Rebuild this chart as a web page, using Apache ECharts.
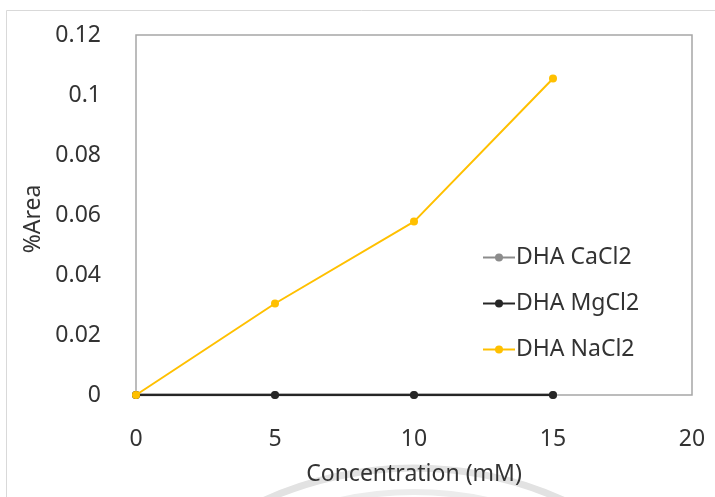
<!DOCTYPE html>
<html>
<head>
<meta charset="utf-8">
<script src="https://cdn.jsdelivr.net/npm/echarts@6/dist/echarts.min.js"></script>
<style>
  html, body { margin: 0; padding: 0; background: #ffffff; }
  #chart { width: 715px; height: 497px; }
</style>
</head>
<body>
<div id="chart"></div>
<script>
// Concentration levels (mM)
const concentration = [0, 5, 10, 15];
// %Area for each salt
const caCl2 = [0, 0, 0, 0];
const mgCl2 = [0, 0, 0, 0];
const naCl2 = [0, 0.0305, 0.0578, 0.1055];
const seriesNames = ['DHA CaCl2', 'DHA MgCl2', 'DHA NaCl2'];

const FONT = '"Noto Sans", sans-serif';
const FS = 23;
const TEXT = '#333333';

function pairs(values) {
  return concentration.map((c, i) => [c, values[i]]);
}

const chart = echarts.init(document.getElementById('chart'));
chart.setOption({
  animation: false,
  backgroundColor: '#ffffff',
  grid: {
    left: 136, right: 23, top: 35, bottom: 102,
    show: true, borderColor: '#a6a6a6', borderWidth: 1.5
  },
  graphic: [
    {
      type: 'rect', silent: true, z: -1,
      shape: { x: 6.5, y: 10.5, width: 720, height: 500 },
      style: { fill: 'none', stroke: '#d9d9d9', lineWidth: 1 }
    },
    {
      type: 'arc', silent: true, z: -1,
      shape: { cx: 414, cy: 830, r: 362, startAngle: Math.PI * 1.18, endAngle: Math.PI * 1.82 },
      style: { fill: 'none', stroke: '#e2e2e2', lineWidth: 7 }
    },
    {
      type: 'arc', silent: true, z: -1,
      shape: { cx: 414, cy: 830, r: 338, startAngle: Math.PI * 1.25, endAngle: Math.PI * 1.75 },
      style: { fill: 'none', stroke: '#ececec', lineWidth: 6 }
    }
  ],
  legend: {
    orient: 'vertical',
    left: 477, top: 241,
    itemGap: 23,
    itemWidth: 32, itemHeight: 10,
    textStyle: { fontFamily: FONT, fontSize: FS, color: TEXT, padding: [0, 0, 0, -4] },
    data: seriesNames
  },
  xAxis: {
    type: 'value', min: 0, max: 20, interval: 5,
    name: 'Concentration (mM)', nameLocation: 'middle', nameGap: 68,
    nameTextStyle: { fontFamily: FONT, fontSize: FS, color: TEXT },
    axisLine: { show: false },
    axisTick: { show: false },
    splitLine: { show: false },
    axisLabel: { fontFamily: FONT, fontSize: FS, color: TEXT, margin: 33 }
  },
  yAxis: {
    type: 'value', min: 0, max: 0.12, interval: 0.02,
    name: '%Area', nameLocation: 'middle', nameGap: 83,
    nameTextStyle: { fontFamily: FONT, fontSize: FS, color: TEXT, padding: [0, 8, 0, 0] },
    axisLine: { show: false },
    axisTick: { show: false },
    splitLine: { show: false },
    axisLabel: {
      fontFamily: FONT, fontSize: FS, color: TEXT, margin: 35,
      formatter: v => String(Number(v.toFixed(2)))
    }
  },
  series: [
    {
      name: seriesNames[0], type: 'line', data: pairs(caCl2),
      symbol: 'circle', symbolSize: 8,
      lineStyle: { color: '#8c8c8c', width: 2.5 },
      itemStyle: { color: '#8c8c8c' }, z: 2
    },
    {
      name: seriesNames[1], type: 'line', data: pairs(mgCl2),
      symbol: 'circle', symbolSize: 8,
      lineStyle: { color: '#262626', width: 2.5 },
      itemStyle: { color: '#262626' }, z: 3
    },
    {
      name: seriesNames[2], type: 'line', data: pairs(naCl2),
      symbol: 'circle', symbolSize: 8,
      lineStyle: { color: '#ffc000', width: 2 },
      itemStyle: { color: '#ffc000' }, z: 4
    }
  ]
});
</script>
</body>
</html>
